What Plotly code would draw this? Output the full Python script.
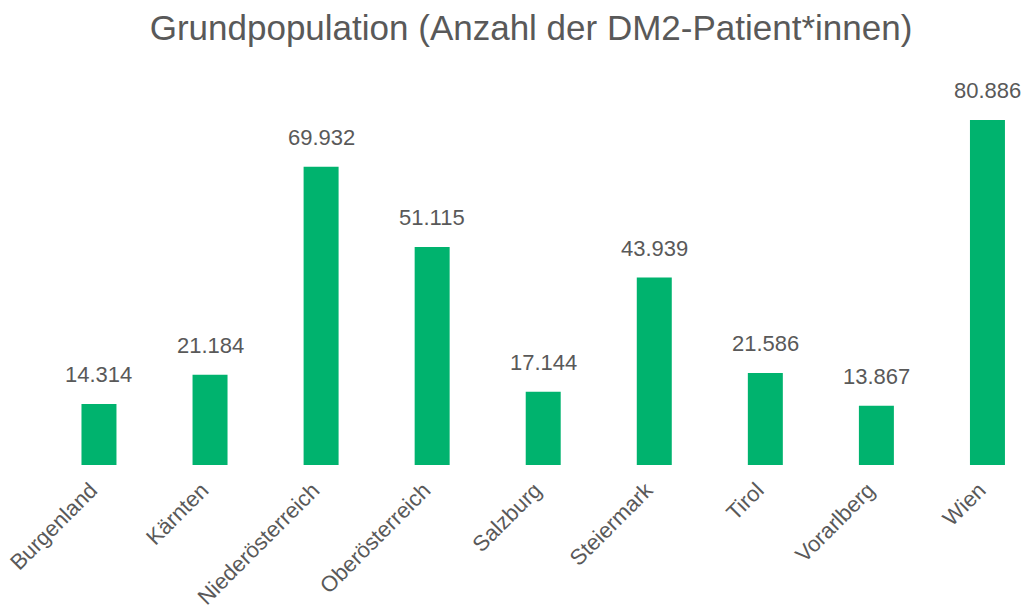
import plotly.graph_objects as go

categories = ["Burgenland", "Kärnten", "Niederösterreich", "Oberösterreich", "Salzburg",
              "Steiermark", "Tirol", "Vorarlberg", "Wien"]
values = [14314, 21184, 69932, 51115, 17144, 43939, 21586, 13867, 80886]

bar_color = "#00B36E"
text_color = "#595959"
font_family = "Liberation Sans, Arial, sans-serif"

fig = go.Figure()
fig.add_trace(go.Bar(
    x=list(range(len(categories))),
    y=values,
    width=0.315,
    marker=dict(color=bar_color, line=dict(width=0)),
    hoverinfo="skip",
))

for i, v in enumerate(values):
    fig.add_annotation(
        x=i, y=v, xref="x", yref="y",
        text=f"{v:,}".replace(",", "."),
        showarrow=False, yanchor="bottom", yshift=15,
        font=dict(family=font_family, size=22, color=text_color),
    )

fig.update_layout(
    width=1022, height=608,
    paper_bgcolor="white", plot_bgcolor="white",
    margin=dict(l=40, r=7, t=60, b=143),
    title=dict(
        text="Grundpopulation (Anzahl der DM2-Patient*innen)",
        xref="container", yref="container",
        x=0.5196, xanchor="center", y=0.954, yanchor="middle",
        font=dict(family=font_family, size=35, color=text_color),
    ),
    showlegend=False,
    separators=",.",
    xaxis=dict(
        tickmode="array",
        tickvals=list(range(len(categories))),
        ticktext=categories,
        tickangle=-45,
        range=[-0.531, 8.248],
        showgrid=False, zeroline=False, showline=False, ticks="",
        ticklabelstandoff=7,
        ticklabelshift=-8,
        ticklabeloverflow="allow",
        tickfont=dict(family=font_family, size=22, color=text_color),
        automargin=False,
    ),
    yaxis=dict(
        range=[0, 94950],
        visible=False,
        showgrid=False, zeroline=False,
    ),
)

fig.write_html(
    "out.html",
    config={"displayModeBar": False},
    post_script="document.body.style.margin='0';document.body.style.overflow='hidden';",
)
